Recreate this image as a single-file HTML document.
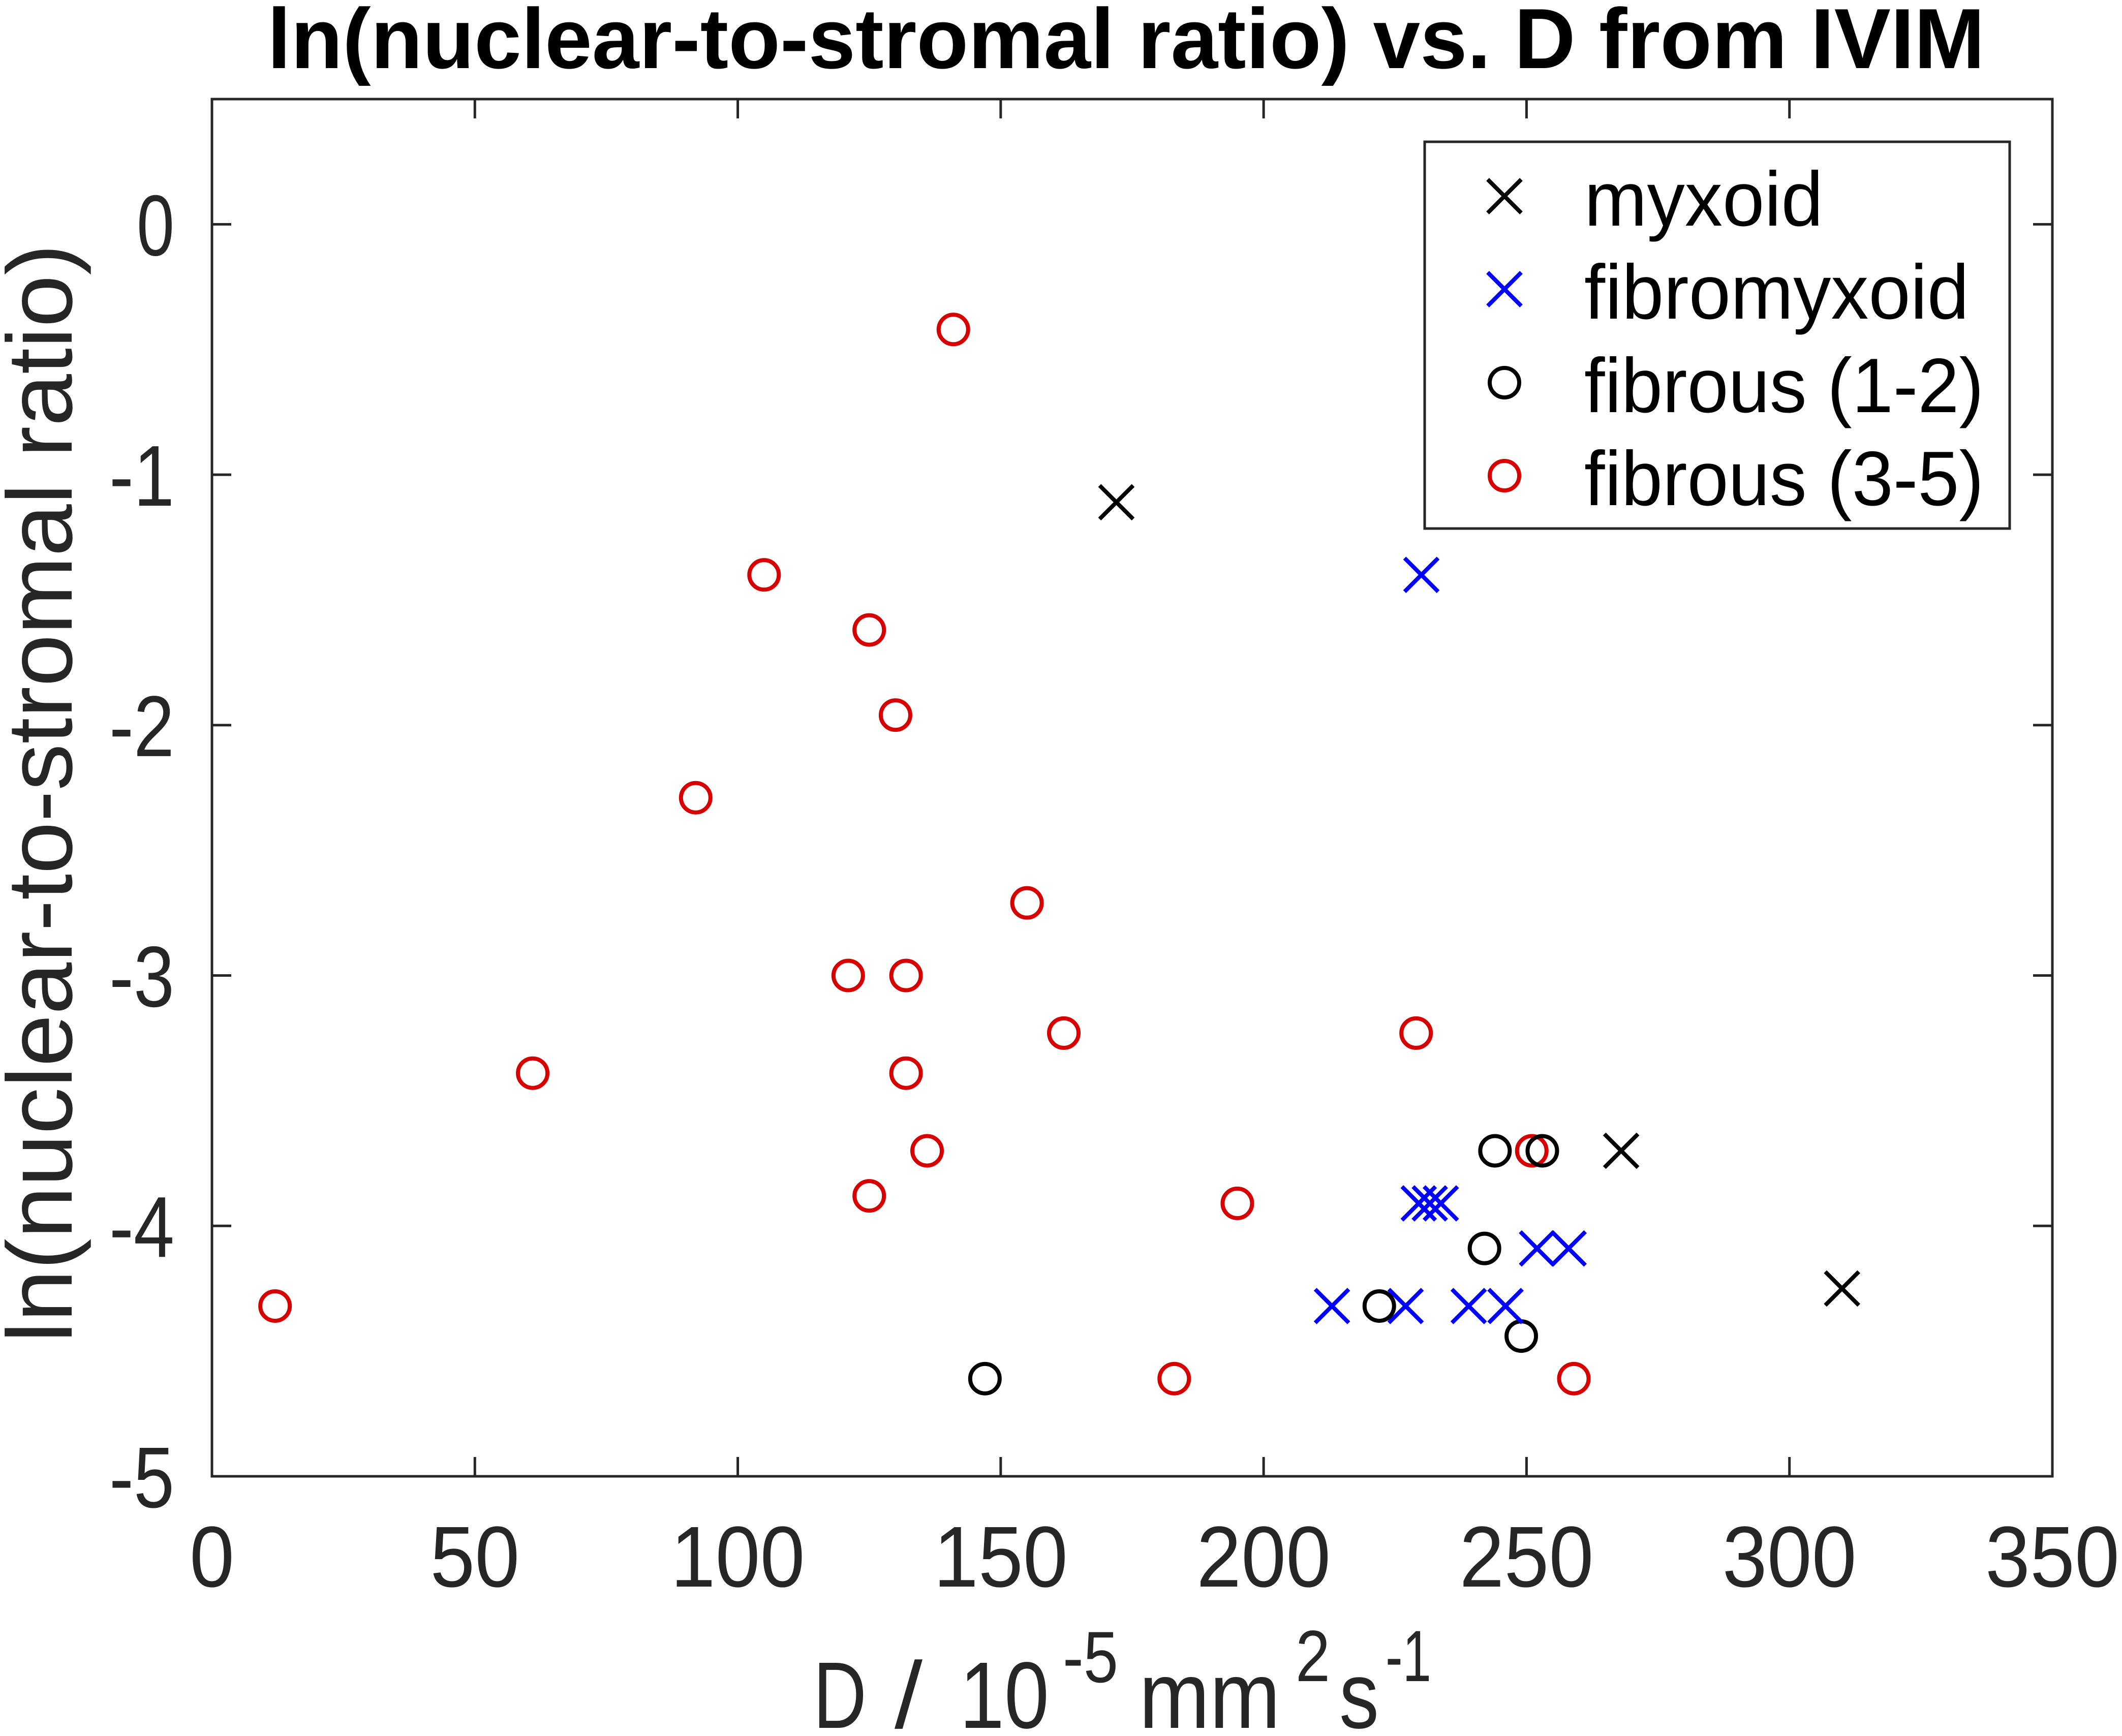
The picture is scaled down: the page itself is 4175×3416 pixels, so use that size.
<!DOCTYPE html>
<html><head><meta charset="utf-8"><style>html,body{margin:0;padding:0;background:#fff}svg{display:block}</style></head>
<body>
<svg id="chart" width="4175" height="3416" viewBox="0 0 4175 3416" xmlns="http://www.w3.org/2000/svg" font-family="'Liberation Sans', sans-serif">
<rect x="0" y="0" width="4175" height="3416" fill="#fff"/>
<text x="526" y="134" font-size="168" font-weight="bold" fill="#000" textLength="3379" lengthAdjust="spacingAndGlyphs">ln(nuclear-to-stromal ratio) vs. D from IVIM</text>
<g id="axes"></g>
<g id="marks"></g>
<g fill="#262626">
<text x="1600" y="3400" font-size="186" textLength="105" lengthAdjust="spacingAndGlyphs">D</text>
<text x="1760" y="3400" font-size="186" textLength="55" lengthAdjust="spacingAndGlyphs">/</text>
<text x="1888" y="3400" font-size="186" textLength="176" lengthAdjust="spacingAndGlyphs">10</text>
<text x="2091" y="3310" font-size="143" textLength="109" lengthAdjust="spacingAndGlyphs">-5</text>
<text x="2241" y="3400" font-size="186" textLength="278" lengthAdjust="spacingAndGlyphs">mm</text>
<text x="2549" y="3308" font-size="143" textLength="68" lengthAdjust="spacingAndGlyphs">2</text>
<text x="2635" y="3400" font-size="186" textLength="78" lengthAdjust="spacingAndGlyphs">s</text>
<text x="2726" y="3308" font-size="143" textLength="90" lengthAdjust="spacingAndGlyphs">-1</text>
</g>
<text transform="translate(141,1561) rotate(-90)" text-anchor="middle" font-size="182" fill="#262626" textLength="2162" lengthAdjust="spacingAndGlyphs">ln(nuclear-to-stromal ratio)</text>
<g>
<rect x="2803" y="279" width="1151" height="761" fill="#fff" stroke="#262626" stroke-width="5"/>
<g id="legend-items"></g>
</g>
</svg>
<script>
const xTicks = [0, 50, 100, 150, 200, 250, 300, 350];
const yTicks = [0, -1, -2, -3, -4, -5];
const xTickLabels = ["0", "50", "100", "150", "200", "250", "300", "350"];
const yTickLabels = ["0", "-1", "-2", "-3", "-4", "-5"];
const myxoidX = [172, 268, 310];
const myxoidY = [-1.11, -3.70, -4.25];
const fibromyxoidX = [230, 229.5, 231.6, 233.7, 213, 227, 239, 246, 252, 258];
const fibromyxoidY = [-1.40, -3.91, -3.91, -3.91, -4.32, -4.32, -4.32, -4.32, -4.09, -4.09];
const fib12X = [147, 222, 242, 244, 253, 249];
const fib12Y = [-4.61, -4.32, -4.09, -3.70, -3.70, -4.44];
const fib35X = [141, 105, 125, 130, 92, 155, 121, 132, 162, 61, 132, 136, 125, 195, 12, 183, 229, 251, 259];
const fib35Y = [-0.42, -1.40, -1.62, -1.96, -2.29, -2.71, -3.00, -3.00, -3.23, -3.39, -3.39, -3.70, -3.88, -3.91, -4.32, -4.61, -3.23, -3.70, -4.61];
const legendLabels = ["myxoid", "fibromyxoid", "fibrous (1-2)", "fibrous (3-5)"];

const NS = "http://www.w3.org/2000/svg";
const L = 417, R = 4038, T = 195, B = 2905;
const xMin = 0, xMax = 350, yMin = -5, yMax = 0.5;
function sx(v){ return L + (v - xMin) / (xMax - xMin) * (R - L); }
function sy(v){ return B - (v - yMin) / (yMax - yMin) * (B - T); }
function mk(tag, attrs, parent){ const e = document.createElementNS(NS, tag); for (const k in attrs) e.setAttribute(k, attrs[k]); parent.appendChild(e); return e; }

const axes = document.getElementById('axes');
const frame = mk('rect', {x:L, y:T, width:R-L, height:B-T, fill:'none', stroke:'#262626', 'stroke-width':5}, axes);


xTicks.forEach((v, i) => {
  const x = sx(v);
  const t1 = mk('line', {x1:x, x2:x, y1:B, y2:B-38, stroke:'#262626', 'stroke-width':5}, axes);
  
  
  const t2 = mk('line', {x1:x, x2:x, y1:T, y2:T+38, stroke:'#262626', 'stroke-width':5}, axes);
  
  
  const lb = mk('text', {x:x, y:3122, 'text-anchor':'middle', 'font-size':170, fill:'#262626', textLength:xTickLabels[i].length*88, lengthAdjust:'spacingAndGlyphs'}, axes);
  lb.textContent = xTickLabels[i];
  
  
});
yTicks.forEach((v, i) => {
  const y = sy(v);
  const t1 = mk('line', {x1:L, x2:L+38, y1:y, y2:y, stroke:'#262626', 'stroke-width':5}, axes);
  
  
  const t2 = mk('line', {x1:R, x2:R-38, y1:y, y2:y, stroke:'#262626', 'stroke-width':5}, axes);
  
  
  const lab = yTickLabels[i];
  const lb = mk('text', {x:343, y:y+61, 'text-anchor':'end', 'font-size':170, fill:'#262626', textLength:(lab.length===1?74:128), lengthAdjust:'spacingAndGlyphs'}, axes);
  lb.textContent = lab;
  
  
});

function cross(parent, cx, cy, color, name){
  const g = mk('g', {stroke:color, 'stroke-width':8, fill:'none'}, parent);
  
  
  const s = 33;
  mk('path', {d:`M${cx-s},${cy-s}L${cx+s},${cy+s}M${cx-s},${cy+s}L${cx+s},${cy-s}`}, g);
}
function circ(parent, cx, cy, color, name){
  const c = mk('circle', {cx:cx, cy:cy, r:29, stroke:color, 'stroke-width':8, fill:'none'}, parent);
  
  
}
const marks = document.getElementById('marks');
fib35X.forEach((v, i) => circ(marks, sx(v), sy(fib35Y[i]), '#d60000', 'point-fibrous-3-5'));
fib12X.forEach((v, i) => circ(marks, sx(v), sy(fib12Y[i]), '#000', 'point-fibrous-1-2'));
fibromyxoidX.forEach((v, i) => cross(marks, sx(v), sy(fibromyxoidY[i]), '#0000ff', 'point-fibromyxoid'));
myxoidX.forEach((v, i) => cross(marks, sx(v), sy(myxoidY[i]), '#000', 'point-myxoid'));

const li = document.getElementById('legend-items');
const rowsY = [386, 569, 753, 936];
const lens = [470, 757, 786, 786];
legendLabels.forEach((lab, i) => {
  const cy = rowsY[i];
  if (i === 0) cross(li, 2960, cy, '#000', 'legend-marker-myxoid');
  if (i === 1) cross(li, 2960, cy, '#0000ff', 'legend-marker-fibromyxoid');
  if (i === 2) circ(li, 2960, cy, '#000', 'legend-marker-fibrous-1-2');
  if (i === 3) circ(li, 2960, cy, '#d60000', 'legend-marker-fibrous-3-5');
  const t = mk('text', {x:3117, y:cy+58, 'font-size':152, fill:'#000', textLength:lens[i], lengthAdjust:'spacingAndGlyphs'}, li);
  t.textContent = lab;
  
  
});
</script>
</body></html>
